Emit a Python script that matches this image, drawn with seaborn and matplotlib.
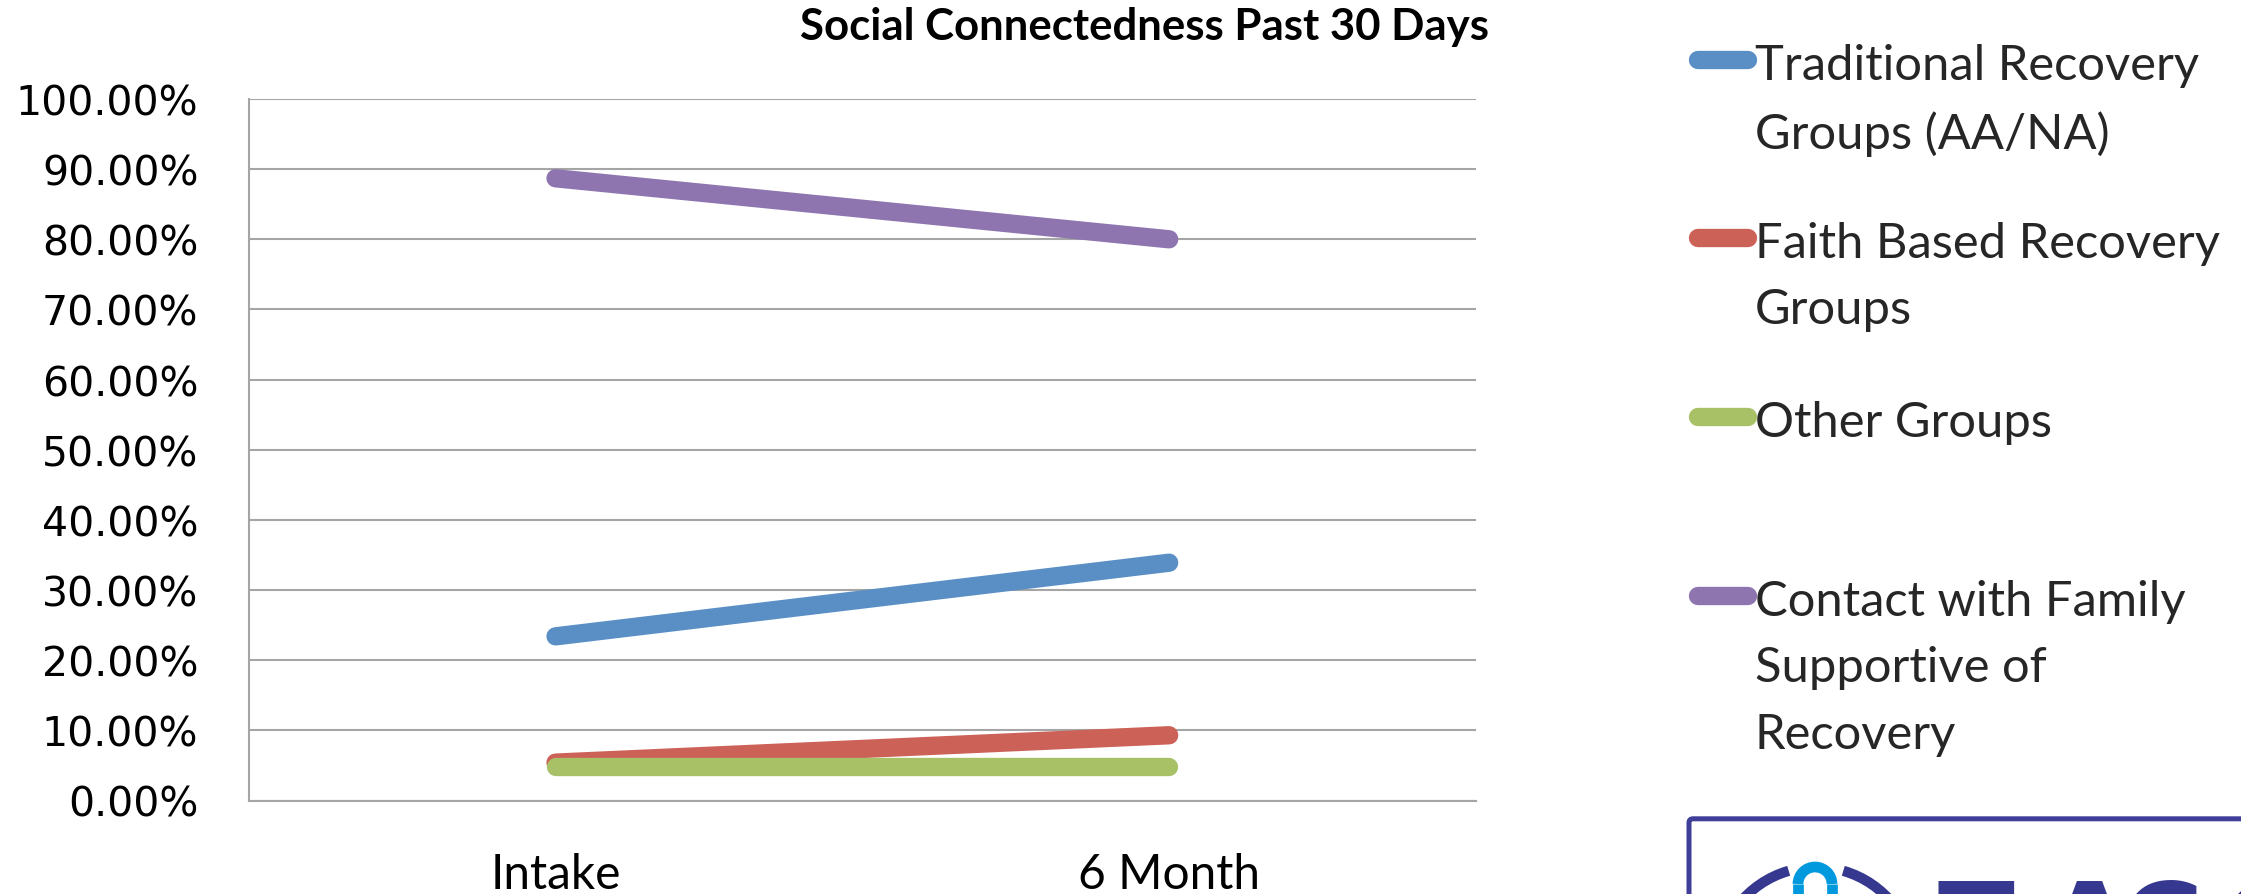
import matplotlib
matplotlib.use("Agg")
import matplotlib.pyplot as plt
import pandas as pd
import seaborn as sns
from matplotlib.patches import Arc, FancyBboxPatch

# ---- chart data -------------------------------------------------------------
periods = ["Intake", "6 Month"]
series_names = [
    "Traditional Recovery\nGroups (AA/NA)",
    "Faith Based Recovery\nGroups",
    "Other Groups",
    "Contact with Family\nSupportive of\nRecovery",
]
traditional = [0.234, 0.339]
faith_based = [0.054, 0.093]
other_groups = [0.048, 0.048]
family_contact = [0.887, 0.800]
y_tick_values = [0.0, 0.1, 0.2, 0.3, 0.4, 0.5, 0.6, 0.7, 0.8, 0.9, 1.0]
title = "Social Connectedness Past 30 Days"
series_colors = ["#5A8FC5", "#CC6158", "#A8C167", "#8E75B0"]

# ---- figure setup -----------------------------------------------------------
W, H, DPI = 2241, 895, 100
sns.set_style("white")
plt.rcParams["font.family"] = ["Lato", "DejaVu Sans"]
GRID = "#A5A5A5"

df = pd.DataFrame({
    "period": periods * len(series_names),
    "share": traditional + faith_based + other_groups + family_contact,
    "series": [name for name in series_names for _ in periods],
})

fig = plt.figure(figsize=(W / DPI, H / DPI), dpi=DPI)
fig.patch.set_facecolor("white")

# decorative logo layer in pixel units (y up)
bg = fig.add_axes([0, 0, 1, 1], zorder=-1)
bg.set_xlim(0, W)
bg.set_ylim(0, H)
bg.axis("off")

ax = fig.add_axes([248.7 / W, 1 - 801.5 / H, 1227.3 / W, 701.5 / H])

LW = 13.2
sns.lineplot(
    data=df, x="period", y="share", hue="series", hue_order=series_names,
    palette=series_colors, linewidth=LW, solid_capstyle="round",
    sort=False, errorbar=None, ax=ax,
)
handles, labels = ax.get_legend_handles_labels()
ax.get_legend().remove()

# ---- axes styling -----------------------------------------------------------
ax.set_xlim(-0.5, 1.5)
ax.set_ylim(0, 1)
ax.set_xlabel("")
ax.set_ylabel("")
for side in ("top", "right"):
    ax.spines[side].set_visible(False)
for side in ("left", "bottom"):
    ax.spines[side].set_color(GRID)
    ax.spines[side].set_linewidth(1.5)

ax.set_yticks(y_tick_values,
              labels=[f"{v * 100:.2f}%" for v in y_tick_values],
              fontfamily="DejaVu Sans", fontsize=29.5)
ax.yaxis.grid(True, color=GRID, linewidth=1.5)
ax.set_axisbelow(True)
ax.tick_params(axis="y", direction="out", length=12.2, width=1.5,
               color=GRID, pad=24, labelcolor="black")

ax.set_xticks([-0.5, 0.5, 1.5], labels=["", "", ""])
ax.set_xticks([0, 1], labels=periods, minor=True, fontsize=34.5)
ax.tick_params(axis="x", which="major", direction="out", length=12.2,
               width=1.5, color=GRID)
ax.tick_params(axis="x", which="minor", length=0, pad=37,
               labelcolor="black")

fig.text(1144 / W, 1 - 40 / H, title, ha="center", va="baseline",
         fontsize=31.5, fontweight="bold", color="black")

# ---- legend: one entry per slot, handle aligned with the first text line ----
legend_tops = [44, 222, 401, 580]
for handle, label, top in zip(handles, labels, legend_tops):
    leg = fig.legend(
        [handle], [label], loc="upper left",
        bbox_to_anchor=(1698 / W, 1 - top / H),
        frameon=False, borderpad=0, borderaxespad=0,
        handlelength=1.02, handletextpad=0.14,
        prop={"family": "Lato", "size": 35.2},
    )
    for line in leg.get_lines():
        line.set_linewidth(LW)
        line.set_solid_capstyle("round")
    for txt in leg.get_texts():
        txt.set_linespacing(1.62)
    for column in leg._legend_handle_box.get_children():
        for item in column.get_children():
            item.align = "top"

# ---- logo card in the lower right --------------------------------------------
NAVY = "#36388F"
bg.add_patch(FancyBboxPatch((1689, -60), 700, (H - 819.8) + 60,
                            boxstyle="round,pad=0,rounding_size=4",
                            ec="#3F3F9A", fc="white", lw=3.6))
bg.add_patch(Arc((1816, -72), 198, 198, theta1=106, theta2=180,
                 color=NAVY, lw=7.4))
bg.add_patch(Arc((1816, -72), 198, 198, theta1=0, theta2=74,
                 color=NAVY, lw=7.4))
bg.add_patch(Arc((1815, 10), 34, 34, theta1=0, theta2=180,
                 color="#0099DD", lw=7.7))
bg.plot([1798, 1798], [10, -5], color="#0099DD", lw=7.7, solid_capstyle="butt")
bg.plot([1832, 1832], [10, -5], color="#0099DD", lw=7.7, solid_capstyle="butt")
for letter, lx in zip("TACC", [1937, 2045, 2120, 2222]):
    bg.text(lx, -68, letter, ha="left", va="baseline", fontsize=81,
            fontweight="bold", fontfamily="DejaVu Sans", color=NAVY,
            clip_on=False)

fig.savefig("out.png", dpi=DPI)
